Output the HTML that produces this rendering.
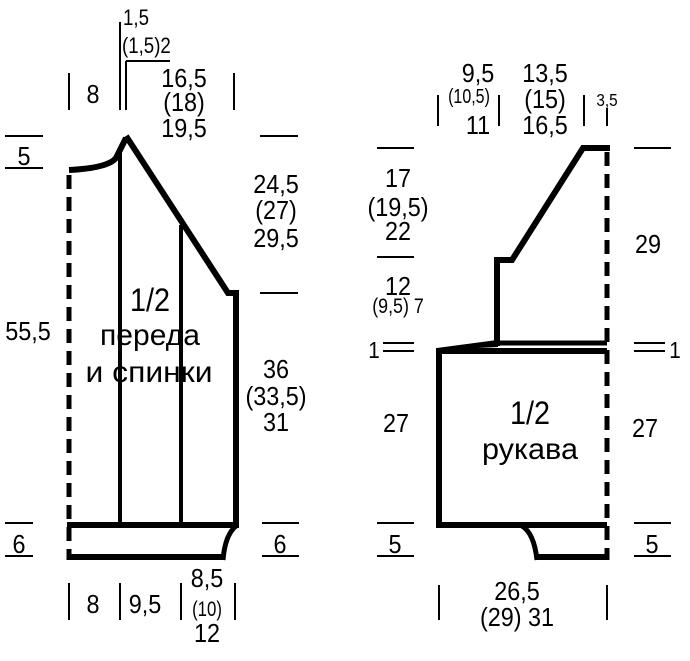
<!DOCTYPE html>
<html><head><style>body{margin:0;background:#fff}svg{display:block}text{font-family:"Liberation Sans",sans-serif;fill:#000;text-anchor:middle}</style></head><body>
<svg width="690" height="661" viewBox="0 0 690 661">
<g stroke="#000" fill="none" stroke-linecap="butt">
<path d="M69,170 Q108,168 116,158 Q120,150 126,138" stroke-width="6"/>
<path d="M126,136 L228,293 L236,293 L236,528" stroke-width="6" stroke-linejoin="miter"/>
<line x1="69" y1="175" x2="69" y2="560" stroke-width="5" stroke-dasharray="14,8"/>
<line x1="120" y1="152" x2="120" y2="525" stroke-width="4"/>
<line x1="181" y1="225" x2="181" y2="525" stroke-width="4"/>
<line x1="67" y1="525" x2="238" y2="525" stroke-width="6"/>
<line x1="67" y1="557" x2="224" y2="557" stroke-width="6"/>
<path d="M236,526 Q225,535 223,560" stroke-width="5"/>
<g stroke-width="2">
<line x1="5" y1="136" x2="43" y2="136"/><line x1="5" y1="168" x2="43" y2="168"/>
<line x1="5" y1="523" x2="33" y2="523"/><line x1="5" y1="556" x2="33" y2="556"/>
<line x1="262" y1="523" x2="299" y2="523"/><line x1="262" y1="556" x2="299" y2="556"/>
<line x1="260" y1="136" x2="298" y2="136"/><line x1="260" y1="293" x2="298" y2="293"/>
<line x1="69" y1="73" x2="69" y2="110"/><line x1="120" y1="22" x2="120" y2="110"/>
<line x1="126" y1="61" x2="126" y2="110"/><line x1="126" y1="61" x2="170" y2="61"/>
<line x1="234" y1="73" x2="234" y2="110"/>
<line x1="69" y1="583" x2="69" y2="620"/><line x1="120" y1="583" x2="120" y2="620"/>
<line x1="181" y1="583" x2="181" y2="620"/><line x1="235" y1="583" x2="235" y2="620"/>
</g>
<path d="M610,148 L583,148 L512,260 L497,260 L497,346" stroke-width="6"/>
<line x1="607" y1="152" x2="607" y2="560" stroke-width="5" stroke-dasharray="14,8"/>
<line x1="497" y1="343" x2="607" y2="343" stroke-width="5"/>
<line x1="436" y1="351" x2="607" y2="351" stroke-width="6"/>
<path d="M437,349 L497,341 L497,346 Z" stroke-width="2" fill="#000"/>
<line x1="439" y1="349" x2="439" y2="528" stroke-width="6"/>
<line x1="436" y1="525" x2="607" y2="525" stroke-width="6"/>
<path d="M522,526 Q534,533 537,560" stroke-width="5"/>
<line x1="535" y1="557" x2="607" y2="557" stroke-width="6"/>
<g stroke-width="2">
<line x1="377" y1="148" x2="414" y2="148"/><line x1="377" y1="257" x2="414" y2="257"/>
<line x1="634" y1="148" x2="671" y2="148"/>
<line x1="383" y1="343" x2="414" y2="343"/><line x1="383" y1="351" x2="414" y2="351"/>
<line x1="634" y1="343" x2="665" y2="343"/><line x1="634" y1="351" x2="665" y2="351"/>
<line x1="377" y1="523" x2="414" y2="523"/><line x1="377" y1="556" x2="414" y2="556"/>
<line x1="634" y1="523" x2="671" y2="523"/><line x1="634" y1="556" x2="671" y2="556"/>
<line x1="438" y1="95" x2="438" y2="126"/><line x1="499" y1="95" x2="499" y2="126"/>
<line x1="584" y1="95" x2="584" y2="126"/><line x1="607" y1="108" x2="607" y2="126"/>
<line x1="439" y1="585" x2="439" y2="620"/><line x1="607" y1="585" x2="607" y2="620"/>
</g>
</g>
<g font-size="26">
<text transform="translate(24,165) scale(.9,1)">5</text>
<text transform="translate(19,553) scale(.9,1)">6</text>
<text transform="translate(280,553) scale(.9,1)">6</text>
<text transform="translate(276,193) scale(.9,1)">24,5</text>
<text transform="translate(276,219) scale(.9,1)">(27)</text>
<text transform="translate(276,247) scale(.9,1)">29,5</text>
<text transform="translate(276,378) scale(.9,1)">36</text>
<text transform="translate(276,405) scale(.9,1)">(33,5)</text>
<text transform="translate(276,431) scale(.9,1)">31</text>
<text transform="translate(28,340) scale(.9,1)">55,5</text>
<text transform="translate(93,103) scale(.9,1)">8</text>
<text transform="translate(184,87) scale(.9,1)">16,5</text>
<text transform="translate(184,111) scale(.9,1)">(18)</text>
<text transform="translate(184,137) scale(.9,1)">19,5</text>
<text transform="translate(93,613) scale(.9,1)">8</text>
<text transform="translate(145,613) scale(.9,1)">9,5</text>
<text transform="translate(207,587) scale(.9,1)">8,5</text>
<text transform="translate(207,616) scale(.8,1)" font-size="21">(10)</text>
<text transform="translate(207,642) scale(.9,1)">12</text>
<text transform="translate(150,311) scale(.9,1)" font-size="32">1/2</text>
<text x="150" y="345" font-size="30" textLength="100" lengthAdjust="spacingAndGlyphs">переда</text>
<text x="149" y="382" font-size="30" textLength="127" lengthAdjust="spacingAndGlyphs">и спинки</text>
<text transform="translate(398,187) scale(.9,1)">17</text>
<text transform="translate(398,216) scale(.9,1)">(19,5)</text>
<text transform="translate(398,240) scale(.9,1)">22</text>
<text transform="translate(398,295) scale(.9,1)">12</text>
<text transform="translate(398,313) scale(.85,1)" font-size="21">(9,5) 7</text>
<text transform="translate(648,253) scale(.9,1)">29</text>
<text transform="translate(396,432) scale(.9,1)">27</text>
<text transform="translate(645,437) scale(.9,1)">27</text>
<text transform="translate(374,358) scale(.9,1)" font-size="23">1</text>
<text transform="translate(675,358) scale(.9,1)" font-size="23">1</text>
<text transform="translate(395,553) scale(.9,1)">5</text>
<text transform="translate(652,553) scale(.9,1)">5</text>
<text transform="translate(530,424) scale(.9,1)" font-size="32">1/2</text>
<text x="530" y="459" font-size="30" textLength="96" lengthAdjust="spacingAndGlyphs">рукава</text>
<text transform="translate(517,600) scale(.9,1)">26,5</text>
<text transform="translate(517,626) scale(.9,1)">(29) 31</text>
<text transform="translate(478,82) scale(.9,1)">9,5</text>
<text transform="translate(469,103) scale(.8,1)" font-size="20">(10,5)</text>
<text transform="translate(478,134) scale(.9,1)">11</text>
<text transform="translate(545,82) scale(.9,1)">13,5</text>
<text transform="translate(545,108) scale(.9,1)">(15)</text>
<text transform="translate(545,134) scale(.9,1)">16,5</text>
<text transform="translate(607,106) scale(.85,1)" font-size="18">3,5</text>
<text transform="translate(123,25) scale(.85,1)" font-size="22" style="text-anchor:start">1,5</text>
<text transform="translate(122,53) scale(.85,1)" font-size="22" style="text-anchor:start">(1,5)2</text>
</g>
</svg>
</body></html>
